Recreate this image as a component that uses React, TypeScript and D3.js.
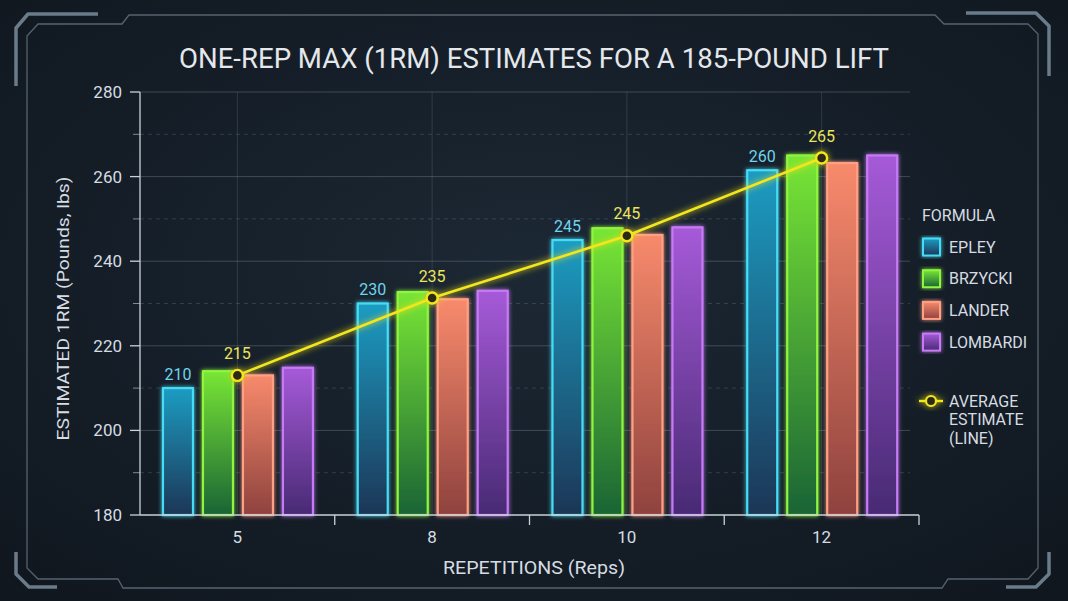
import React from "react";
import * as d3 from "d3";

const categories = ["5", "8", "10", "12"];
const seriesNames = ["EPLEY", "BRZYCKI", "LANDER", "LOMBARDI"];
const epley = [210, 230, 245, 261.5];
const brzycki = [214, 232.7, 247.8, 265];
const lander = [213, 231, 246.2, 263.2];
const lombardi = [214.8, 233, 248, 265];
const average = [213, 231.3, 246, 264.4];
const epleyLabels = ["210", "230", "245", "260"];
const averageLabels = ["215", "235", "245", "265"];
const yTicks = [180, 200, 220, 240, 260, 280];
const yMinor = [190, 210, 230, 250, 270];

const seriesValues = [epley, brzycki, lander, lombardi];
const strokeColors = ["#46dcf5", "#8ff53f", "#ffa084", "#c77af5"];
const fillTop = ["#1b9cc2", "#78e636", "#f88a6c", "#a65ad8"];
const fillBottom = ["#1a3656", "#1a6436", "#8e423e", "#482a74"];

const W = 1068;
const H = 601;
const LEFT = 140;
const RIGHT = 919;
const TOP = 92;
const BOTTOM = 515;
const TEXT = "#d6dce2";
const FONT = "Roboto, 'Noto Sans', sans-serif";

export default function App() {
  const y = d3.scaleLinear().domain([180, 280]).range([BOTTOM, TOP]);
  const x0 = d3.scaleBand<string>().domain(categories).range([LEFT, RIGHT]).padding(0);
  const bw = x0.bandwidth();
  const x1 = d3
    .scaleBand<string>()
    .domain(seriesNames)
    .range([bw * 0.118, bw * 0.888])
    .paddingInner(0.25)
    .paddingOuter(0);
  const cx = (c: string) => (x0(c) as number) + bw / 2;
  const line = d3
    .line<number>()
    .x((_, i) => cx(categories[i]))
    .y((d) => y(d));

  const boundaries = [...categories.map((c) => x0(c) as number), RIGHT];

  return (
    <svg
      width={W}
      height={H}
      style={{ position: "absolute", left: 0, top: 0 }}
      viewBox={`0 0 ${W} ${H}`}
    >
      <defs>
        <radialGradient id="bg" cx="50%" cy="45%" r="70%">
          <stop offset="0%" stopColor="#1c2834" />
          <stop offset="100%" stopColor="#10171f" />
        </radialGradient>
        {seriesNames.map((s, i) => (
          <linearGradient key={s} id={`g${i}`} x1="0" y1="0" x2="0" y2="1">
            <stop offset="0%" stopColor={fillTop[i]} />
            <stop offset="100%" stopColor={fillBottom[i]} />
          </linearGradient>
        ))}
        <filter id="glow" x="-50%" y="-50%" width="200%" height="200%">
          <feGaussianBlur stdDeviation="3" result="b" />
          <feMerge>
            <feMergeNode in="b" />
            <feMergeNode in="SourceGraphic" />
          </feMerge>
        </filter>
        <filter id="glowSoft" x="-50%" y="-20%" width="200%" height="140%">
          <feGaussianBlur stdDeviation="2" result="b" />
          <feMerge>
            <feMergeNode in="b" />
            <feMergeNode in="SourceGraphic" />
          </feMerge>
        </filter>
      </defs>
      <rect x={0} y={0} width={W} height={H} fill="url(#bg)" />

      {/* frame */}
      <path
        d="M27,560 L27,36 L38,24 L122,24 L129,15 L935,15 L944,24 L1028,24 L1038,34 L1038,568 L1028,579 L948,579 L942,588 L123,588 L118,579 L38,579 L27,568 Z"
        fill="none"
        stroke="#56636f"
        strokeWidth={1.3}
      />
      <g stroke="#6a7b8a" strokeWidth={3.5} fill="none" strokeLinejoin="round">
        <path d="M16,86 L16,28 L28,14 L98,14" />
        <path d="M966,13 L1036,13 L1049,26 L1049,76" />
        <path d="M16,552 L16,574 L29,587 L57,587" />
        <path d="M1006,587 L1036,587 L1049,574 L1049,552" />
      </g>

      {/* title */}
      <text
        x={534}
        y={68}
        textAnchor="middle"
        fill="#e4e8ec"
        fontFamily={FONT}
        fontSize={28}
        textLength={710}
        lengthAdjust="spacingAndGlyphs"
      >
        ONE-REP MAX (1RM) ESTIMATES FOR A 185-POUND LIFT
      </text>

      {/* gridlines */}
      {yTicks.slice(1).map((t) => (
        <line key={t} x1={LEFT} x2={910} y1={y(t)} y2={y(t)} stroke="#8a98a6" strokeOpacity={0.35} strokeWidth={1} />
      ))}
      {yMinor.map((t) => (
        <line key={t} x1={LEFT} x2={910} y1={y(t)} y2={y(t)} stroke="#8a98a6" strokeOpacity={0.25} strokeDasharray="4,4" strokeWidth={1} />
      ))}
      {categories.map((c) => (
        <line key={c} x1={cx(c)} x2={cx(c)} y1={TOP} y2={BOTTOM} stroke="#8a98a6" strokeOpacity={0.22} strokeWidth={1} />
      ))}

      {/* y axis */}
      <line x1={LEFT} x2={LEFT} y1={TOP} y2={BOTTOM} stroke="#c9d1d8" strokeWidth={1.3} />
      {yTicks.map((t) => (
        <g key={t}>
          <line x1={130} x2={LEFT} y1={y(t)} y2={y(t)} stroke="#c9d1d8" strokeWidth={1.3} />
          <text x={122} y={y(t)} dy="0.35em" textAnchor="end" fill={TEXT} fontFamily={FONT} fontSize={17}>
            {t}
          </text>
        </g>
      ))}
      {yMinor.map((t) => (
        <line key={t} x1={133} x2={LEFT} y1={y(t)} y2={y(t)} stroke="#c9d1d8" strokeOpacity={0.6} strokeWidth={1} />
      ))}
      <text
        transform={`translate(69,${(TOP + BOTTOM) / 2 + 5}) rotate(-90)`}
        textAnchor="middle"
        fill={TEXT}
        fontFamily={FONT}
        fontSize={16}
        textLength={264}
        lengthAdjust="spacingAndGlyphs"
      >
        ESTIMATED 1RM (Pounds, lbs)
      </text>

      {/* bars */}
      {categories.map((c, ci) => (
        <g key={c} transform={`translate(${x0(c)},0)`}>
          {seriesNames.map((s, si) => {
            const v = seriesValues[si][ci];
            return (
              <rect
                key={s}
                x={x1(s)}
                y={y(v)}
                width={x1.bandwidth()}
                height={BOTTOM - y(v)}
                fill={`url(#g${si})`}
                stroke={strokeColors[si]}
                strokeWidth={2.2}
                filter="url(#glowSoft)"
              />
            );
          })}
          <text
            x={(x1(seriesNames[0]) as number) + x1.bandwidth() / 2}
            y={y(epley[ci]) - 14}
            dy="0.35em"
            textAnchor="middle"
            fill="#6fd4ec"
            fontFamily={FONT}
            fontSize={16}
          >
            {epleyLabels[ci]}
          </text>
        </g>
      ))}

      {/* x axis */}
      <line x1={LEFT} x2={RIGHT} y1={BOTTOM} y2={BOTTOM} stroke="#c9d1d8" strokeWidth={1.3} />
      {boundaries.slice(1).map((b, i) => (
        <line key={i} x1={b} x2={b} y1={BOTTOM} y2={BOTTOM + 10} stroke="#c9d1d8" strokeWidth={1.3} />
      ))}
      {categories.map((c) => (
        <text key={c} x={cx(c)} y={537} dy="0.35em" textAnchor="middle" fill={TEXT} fontFamily={FONT} fontSize={17}>
          {c}
        </text>
      ))}
      <text
        x={534}
        y={568}
        dy="0.35em"
        textAnchor="middle"
        fill={TEXT}
        fontFamily={FONT}
        fontSize={18}
        textLength={182}
        lengthAdjust="spacingAndGlyphs"
      >
        REPETITIONS (Reps)
      </text>

      {/* average line */}
      <g filter="url(#glow)">
        <path d={line(average) as string} fill="none" stroke="#f3e61c" strokeWidth={2.6} />
        {average.map((v, i) => (
          <circle key={i} cx={cx(categories[i])} cy={y(v)} r={5.5} fill="#2b2a12" stroke="#f3e61c" strokeWidth={2.4} />
        ))}
      </g>
      {average.map((v, i) => (
        <text
          key={i}
          x={cx(categories[i])}
          y={y(v) - 22}
          dy="0.35em"
          textAnchor="middle"
          fill="#ece45a"
          fontFamily={FONT}
          fontSize={16}
        >
          {averageLabels[i]}
        </text>
      ))}

      {/* legend */}
      <text x={922} y={215} dy="0.35em" fill={TEXT} fontFamily={FONT} fontSize={16}>
        FORMULA
      </text>
      {seriesNames.map((s, i) => (
        <g key={s} transform={`translate(923,${247 + i * 31.7})`}>
          <rect
            x={0}
            y={-8.5}
            width={17}
            height={17}
            fill={`url(#g${i})`}
            stroke={strokeColors[i]}
            strokeWidth={2}
            filter="url(#glowSoft)"
          />
          <text x={26} y={0} dy="0.35em" fill={TEXT} fontFamily={FONT} fontSize={16}>
            {s}
          </text>
        </g>
      ))}
      <g filter="url(#glow)">
        <line x1={919} x2={943} y1={401} y2={401} stroke="#f3e61c" strokeWidth={2.4} />
        <circle cx={931} cy={401} r={5} fill="#2b2a12" stroke="#f3e61c" strokeWidth={2.2} />
      </g>
      {["AVERAGE", "ESTIMATE", "(LINE)"].map((t, i) => (
        <text key={t} x={949} y={401 + i * 18.5} dy="0.35em" fill={TEXT} fontFamily={FONT} fontSize={16}>
          {t}
        </text>
      ))}
    </svg>
  );
}
